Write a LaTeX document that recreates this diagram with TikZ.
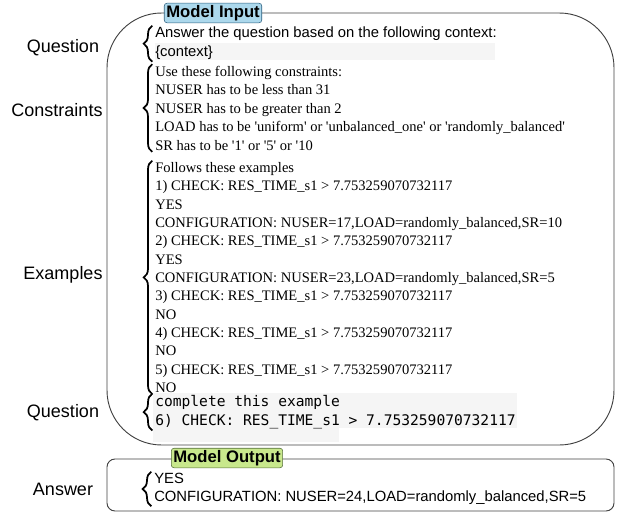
\documentclass[tikz,border=0pt]{standalone}
\usepackage{fontspec}
\setmainfont{Liberation Serif}
\setsansfont{Liberation Sans}
\setmonofont{DejaVu Sans Mono}
\usetikzlibrary{decorations.pathreplacing}

\definecolor{inputfill}{RGB}{172,216,236}
\definecolor{inputedge}{RGB}{46,96,128}
\definecolor{outputfill}{RGB}{200,232,140}
\definecolor{outputedge}{RGB}{86,110,60}
\definecolor{codebg}{RGB}{245,245,245}
\newcommand{\sq}{\textquotesingle}

\begin{document}
\begin{tikzpicture}[
  x=0.75pt, y=-0.75pt,
  rolelabel/.style={font=\fontsize{13.5}{15}\sffamily},
  prompttext/.style={anchor=north west, inner sep=0pt, align=left},
  sanstext/.style={prompttext, font=\fontsize{11.1}{14.25}\sffamily},
  seriftext/.style={prompttext, font=\fontsize{10.9}{13.75}\rmfamily},
  codetext/.style={prompttext, font=\fontsize{10.95}{14.25}\ttfamily},
  boxtitle/.style={draw, rounded corners=2pt, inner sep=1.5pt,
    font=\fontsize{12.5}{14}\sffamily\bfseries},
  brace/.style={decorate, decoration={brace, amplitude=6.5pt}, line width=1.3pt},
  frame/.style={draw=black!75, line width=0.7pt}
]
\useasboundingbox (0,0) rectangle (618,514);

% the two frames
\draw[frame, rounded corners=41pt] (107,13) rectangle (614,445);
\draw[frame, rounded corners=6pt] (107,459) rectangle (614,511);
\node[boxtitle, fill=inputfill, draw=inputedge] (intitle) at (213,13) {Model Input};
\node[boxtitle, fill=outputfill, draw=outputedge] (outtitle) at (227,458) {Model Output};

% shaded lines behind the template parts
\fill[codebg] (155,43) rectangle (495,60);
\fill[codebg] (153,393) rectangle (517,428);
\fill[codebg] (153,428) rectangle (339,442);

% prompt blocks
\node[sanstext] (q1) at (155,27)
  {Answer the question based on the following context:\\{\{}context{\}}};
\node[seriftext, font=\fontsize{10.9}{13.9}\rmfamily] (cons) at (155,65.5)
  {Use these following constraints:\\
   NUSER has to be less than 31\\
   NUSER has to be greater than 2\\
   LOAD has to be \sq uniform\sq{} or \sq unbalanced\_one\sq{} or \sq randomly\_balanced\sq\\
   SR has to be \sq 1\sq{} or \sq 5\sq{} or \sq 10};
\node[seriftext] (ex) at (155,162)
  {Follows these examples\\
   1) CHECK: RES\_TIME\_s1 > 7.753259070732117\\
   YES\\
   CONFIGURATION: NUSER=17,LOAD=randomly\_balanced,SR=10\\
   2) CHECK: RES\_TIME\_s1 > 7.753259070732117\\
   YES\\
   CONFIGURATION: NUSER=23,LOAD=randomly\_balanced,SR=5\\
   3) CHECK: RES\_TIME\_s1 > 7.753259070732117\\
   NO\\
   4) CHECK: RES\_TIME\_s1 > 7.753259070732117\\
   NO\\
   5) CHECK: RES\_TIME\_s1 > 7.753259070732117\\
   NO};
\node[codetext] (q2) at (155,395)
  {complete this example\\6) CHECK: RES\_TIME\_s1 > 7.753259070732117};
\node[sanstext, font=\fontsize{11.1}{13.5}\sffamily] (ans) at (154,473)
  {YES\\CONFIGURATION: NUSER=24,LOAD=randomly\_balanced,SR=5};

% role labels on the left
\node[rolelabel] (lq1) at (63,48) {Question};
\node[rolelabel] (lcons) at (57,110) {Constraints};
\node[rolelabel] (lex) at (63,275) {Examples};
\node[rolelabel] (lq2) at (63,413) {Question};
\node[rolelabel] (lans) at (63,489) {Answer};

% braces tie each block to its label
\draw[brace] ([xshift=-2pt,yshift=-1pt]q1.south west) -- ([xshift=-2pt,yshift=1pt]q1.north west);
\draw[brace] ([xshift=-2pt,yshift=-1pt]cons.south west) -- ([xshift=-2pt,yshift=1pt]cons.north west);
\draw[brace] ([xshift=-2pt,yshift=-1pt]ex.south west) -- ([xshift=-2pt,yshift=1pt]ex.north west);
\draw[brace] ([xshift=-2pt,yshift=-1pt]q2.south west) -- ([xshift=-2pt,yshift=1pt]q2.north west);
\draw[brace] ([xshift=-2pt,yshift=-1pt]ans.south west) -- ([xshift=-2pt,yshift=1pt]ans.north west);
\end{tikzpicture}
\end{document}
